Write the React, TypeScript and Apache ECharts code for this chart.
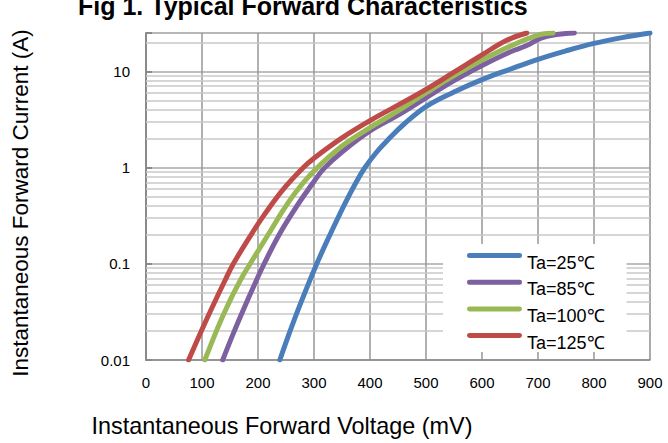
import React, { useEffect, useRef } from "react";
import * as echarts from "echarts";

const titleText = "Fig 1. Typical Forward Characteristics";
const xTitle = "Instantaneous Forward Voltage (mV)";
const yTitle = "Instantaneous Forward Current (A)";

const seriesNames = ["Ta=25℃", "Ta=85℃", "Ta=100℃", "Ta=125℃"];
const seriesColors = ["#4A7EBB", "#7D60A0", "#98B954", "#BE4B48"];

// Ta=25℃
const v25 = [239, 254, 275, 305, 330, 355, 375, 391, 412, 436, 460, 500, 550, 600, 650, 700, 750, 800, 850, 900];
const i25 = [0.01, 0.0177, 0.0374, 0.1, 0.209, 0.42, 0.7, 1.0, 1.45, 2.05, 2.8, 4.3, 6.1, 8.2, 10.5, 13.3, 16.3, 19.5, 22.4, 25];
// Ta=85℃
const v85 = [137, 156, 177, 192, 211, 239, 269, 290, 300, 318, 350, 400, 450, 500, 550, 600, 650, 680, 704, 730, 765];
const i85 = [0.01, 0.0189, 0.0366, 0.0577, 0.1, 0.206, 0.394, 0.595, 0.716, 0.98, 1.45, 2.4, 3.5, 5.3, 8.0, 11.5, 15.9, 18.5, 22, 24, 25];
// Ta=100℃
const v100 = [105, 126, 138, 150, 159, 174, 186, 218, 245, 269, 300, 350, 400, 450, 500, 550, 600, 650, 700, 727];
const i100 = [0.01, 0.0202, 0.0293, 0.0414, 0.0528, 0.0767, 0.1, 0.2, 0.36, 0.57, 0.92, 1.67, 2.6, 3.88, 5.95, 9.0, 13.1, 18.2, 23.8, 25];
// Ta=125℃
const v125 = [76, 99, 117, 141, 156, 189, 212, 245, 281, 300, 350, 400, 450, 500, 550, 600, 644, 680];
const i125 = [0.01, 0.0201, 0.0341, 0.067, 0.1, 0.206, 0.328, 0.593, 1.0, 1.25, 2.03, 3.07, 4.45, 6.5, 9.8, 14.8, 21, 25];

const voltages = [v25, v85, v100, v125];
const currents = [i25, i85, i100, i125];

const xTicks = { min: 0, max: 900, interval: 100 };
const yRange = { min: 0.01, max: 25 };
const minorGridValues = [
  0.02, 0.03, 0.04, 0.05, 0.06, 0.07, 0.08, 0.09,
  0.2, 0.3, 0.4, 0.5, 0.6, 0.7, 0.8, 0.9,
  2, 3, 4, 5, 6, 7, 8, 9, 20,
];

const FONT = "'Liberation Sans', Arial, sans-serif";
// legend icon: a rounded 55x5 bar at the top of a 55x19 box (tiny sub-path sets the box)
const LEGEND_ICON =
  "path://M2.5,0 L52.5,0 A2.5,2.5 0 0 1 52.5,5 L2.5,5 A2.5,2.5 0 0 1 2.5,0 Z M27,19 L27.01,19 L27.01,19.01 Z";

export default function App() {
  const ref = useRef<HTMLDivElement>(null);
  useEffect(() => {
    if (!ref.current) return;
    const chart = echarts.init(ref.current, undefined, { renderer: "svg" });
    const lineSeries = seriesNames.map((name, k) => ({
      name,
      type: "line",
      data: voltages[k].map((x, j) => [x, currents[k][j]]),
      showSymbol: false,
      symbol: "none",
      smooth: 0.4,
      z: 10 + k,
      lineStyle: { color: seriesColors[k], width: 5, cap: "round", join: "round" },
      itemStyle: { color: seriesColors[k] },
    }));
    chart.setOption({
      animation: false,
      backgroundColor: "#fff",
      title: {
        text: titleText,
        left: 78,
        top: -7,
        padding: 0,
        textStyle: { fontSize: 25, fontWeight: "bold", fontFamily: FONT, color: "#000" },
      },
      grid: {
        left: 146,
        right: 18,
        top: 33,
        bottom: 83,
        show: true,
        borderColor: "#c4c4c4",
        borderWidth: 1,
        containLabel: false,
      },
      legend: {
        data: seriesNames,
        orient: "vertical",
        left: 443,
        top: 244,
        z: 20,
        backgroundColor: "#fff",
        padding: [9, 22, 0, 24],
        itemWidth: 55,
        itemHeight: 19,
        itemGap: 7.7,
        icon: LEGEND_ICON,
        itemStyle: { borderWidth: 0 },
        textStyle: {
          fontSize: 18,
          fontFamily: FONT,
          color: "#000",
          lineHeight: 19,
        },
      },
      xAxis: {
        type: "value",
        min: xTicks.min,
        max: xTicks.max,
        interval: xTicks.interval,
        axisLine: { show: true, lineStyle: { color: "#8a8a8a", width: 1.5 } },
        axisTick: { show: false },
        axisLabel: { fontSize: 15, fontFamily: FONT, color: "#000", margin: 15 },
        splitLine: { show: true, lineStyle: { color: "#979797", width: 1.5 } },
      },
      yAxis: {
        type: "log",
        logBase: 10,
        min: yRange.min,
        max: yRange.max,
        axisLine: { show: true, lineStyle: { color: "#8a8a8a", width: 2 } },
        axisTick: { show: true, inside: true, length: 6, lineStyle: { color: "#8a8a8a", width: 2 } },
        axisLabel: {
          fontSize: 15,
          fontFamily: FONT,
          color: "#000",
          margin: 16,
          formatter: (v: number) => {
            const l = Math.log10(v);
            const e = Math.round(l);
            if (Math.abs(l - e) > 1e-6) return "";
            return e >= 0 ? String(Math.pow(10, e)) : Math.pow(10, e).toFixed(-e);
          },
        },
        splitLine: { show: true, lineStyle: { color: "#a8a8a8", width: 1.5 } },
      },
      series: [
        {
          name: "minor-grid",
          type: "line",
          data: [],
          z: 1,
          silent: true,
          markLine: {
            z: 1,
            silent: true,
            symbol: "none",
            label: { show: false },
            lineStyle: { color: "#c8c8c8", width: 1.5, type: "solid" },
            data: minorGridValues.map((y) => ({ yAxis: y })),
          },
        },
        ...lineSeries,
      ],
      graphic: [
        {
          type: "text",
          x: 282,
          y: 426,
          style: { text: xTitle, fontSize: 23.4, fontFamily: FONT, fill: "#000", align: "center", verticalAlign: "middle" },
        },
        {
          type: "text",
          x: 20,
          y: 203,
          rotation: Math.PI / 2,
          style: { text: yTitle, fontSize: 22.5, fontFamily: FONT, fill: "#000", align: "center", verticalAlign: "middle" },
        },
      ],
    });
    return () => chart.dispose();
  }, []);
  return <div ref={ref} style={{ width: 668, height: 443, position: "absolute", left: 0, top: 0 }} />;
}
